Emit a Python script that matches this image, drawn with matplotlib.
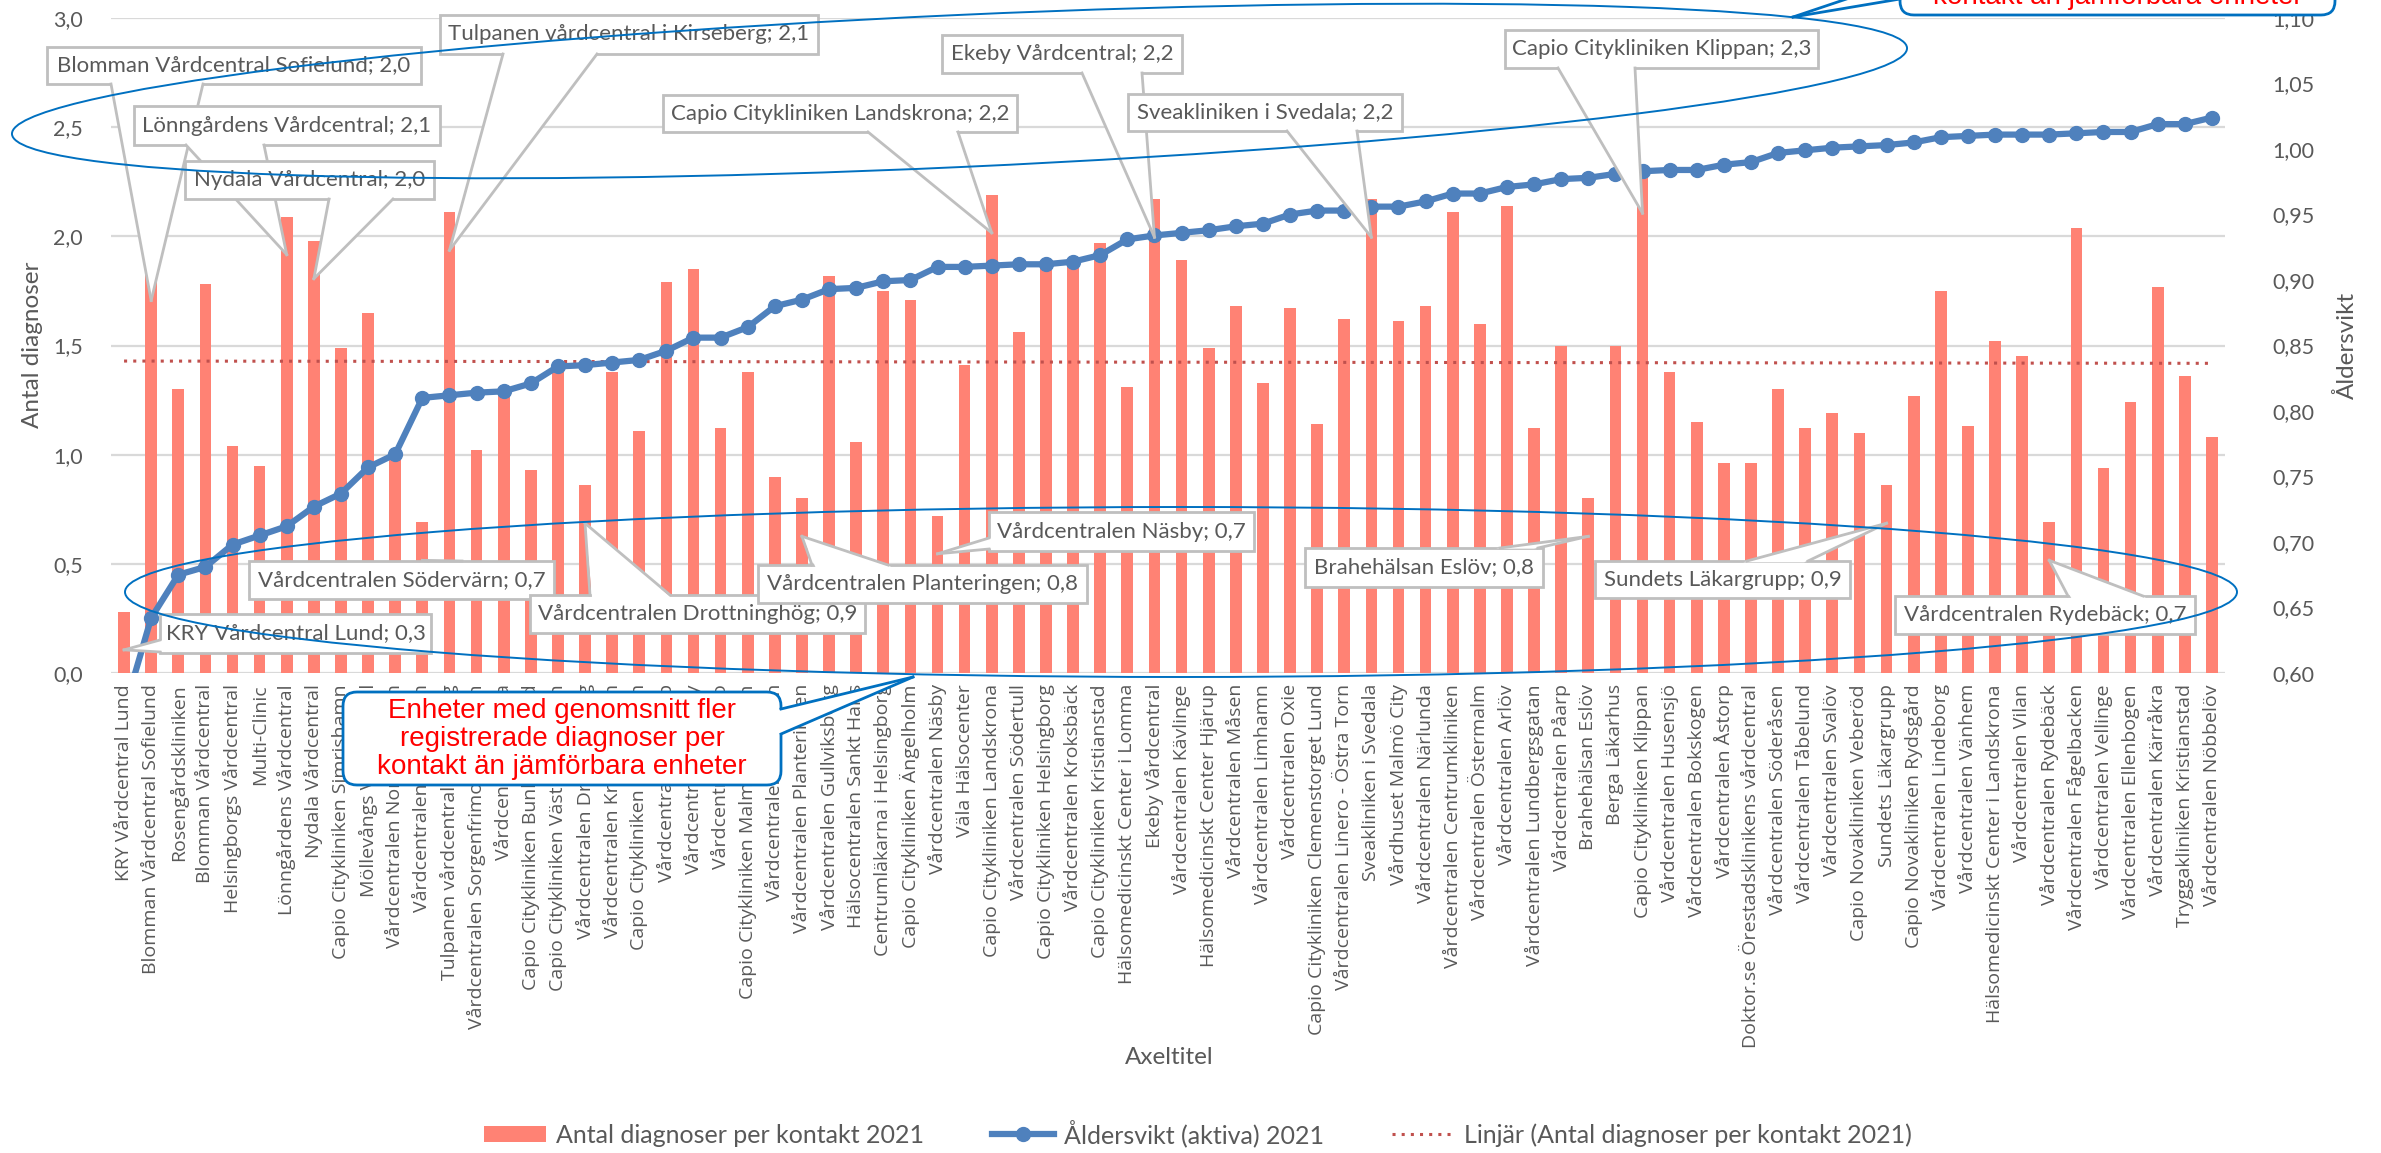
import numpy as np
import matplotlib
matplotlib.use('Agg')
import matplotlib.pyplot as plt
from matplotlib.patches import Ellipse, Polygon, FancyBboxPatch, Patch
from matplotlib.lines import Line2D
from matplotlib.transforms import IdentityTransform
from matplotlib.ticker import FuncFormatter

plt.rcParams['font.family'] = ['Lato', 'DejaVu Sans']

W, H = 2381, 1153
GREY = '#595959'

# ---- data ----
units = [
    'KRY Vårdcentral Lund', 'Blomman Vårdcentral Sofielund', 'Rosengårdskliniken',
    'Blomman Vårdcentral', 'Helsingborgs Vårdcentral', 'Multi-Clinic',
    'Lönngårdens Vårdcentral', 'Nydala Vårdcentral', 'Capio Citykliniken Simrishamn',
    'Möllevångs Vårdcentral', 'Vårdcentralen Norra Fäladen', 'Vårdcentralen Södervärn',
    'Tulpanen vårdcentral i Kirseberg', 'Vårdcentralen Sorgenfrimottagningen', 'Vårdcentralen Bara',
    'Capio Citykliniken Bunkeflostrand', 'Capio Citykliniken Västra Hamnen', 'Vårdcentralen Drottninghög',
    'Vårdcentralen Kronoskogen', 'Capio Citykliniken Nyhamnen', 'Vårdcentralen Skurup',
    'Vårdcentralen Hörby', 'Vårdcentralen Sjöbo', 'Capio Citykliniken Malmö Centrum',
    'Vårdcentralen Höllviken', 'Vårdcentralen Planteringen', 'Vårdcentralen Gullviksborg',
    'Hälsocentralen Sankt Hans', 'Centrumläkarna i Helsingborg', 'Capio Citykliniken Ängelholm',
    'Vårdcentralen Näsby', 'Väla Hälsocenter', 'Capio Citykliniken Landskrona',
    'Vårdcentralen Södertull', 'Capio Citykliniken Helsingborg', 'Vårdcentralen Kroksbäck',
    'Capio Citykliniken Kristianstad', 'Hälsomedicinskt Center i Lomma', 'Ekeby Vårdcentral',
    'Vårdcentralen Kävlinge', 'Hälsomedicinskt Center Hjärup', 'Vårdcentralen Måsen',
    'Vårdcentralen Limhamn', 'Vårdcentralen Oxie', 'Capio Citykliniken Clemenstorget Lund',
    'Vårdcentralen Linero - Östra Torn', 'Sveakliniken i Svedala', 'Vårdhuset Malmö City',
    'Vårdcentralen Närlunda', 'Vårdcentralen Centrumkliniken', 'Vårdcentralen Östermalm',
    'Vårdcentralen Arlöv', 'Vårdcentralen Lundbergsgatan', 'Vårdcentralen Påarp',
    'Brahehälsan Eslöv', 'Berga Läkarhus', 'Capio Citykliniken Klippan',
    'Vårdcentralen Husensjö', 'Vårdcentralen Bokskogen', 'Vårdcentralen Åstorp',
    'Doktor.se Örestadsklinikens vårdcentral', 'Vårdcentralen Söderåsen', 'Vårdcentralen Tåbelund',
    'Vårdcentralen Svalöv', 'Capio Novakliniken Veberöd', 'Sundets Läkargrupp',
    'Capio Novakliniken Rydsgård', 'Vårdcentralen Lindeborg', 'Vårdcentralen Vänhem',
    'Hälsomedicinskt Center i Landskrona', 'Vårdcentralen Vilan', 'Vårdcentralen Rydebäck',
    'Vårdcentralen Fågelbacken', 'Vårdcentralen Vellinge', 'Vårdcentralen Ellenbogen',
    'Vårdcentralen Kärråkra', 'Tryggakliniken Kristianstad', 'Vårdcentralen Nöbbelöv',
]

diagnoser = [
    0.28, 1.88, 1.30, 1.78, 1.04, 0.95, 2.09, 1.98, 1.49, 1.65,
    0.98, 0.69, 2.11, 1.02, 1.29, 0.93, 1.39, 0.86, 1.38, 1.11,
    1.79, 1.85, 1.12, 1.38, 0.90, 0.80, 1.82, 1.06, 1.75, 1.71,
    0.72, 1.41, 2.19, 1.56, 1.87, 1.87, 1.97, 1.31, 2.17, 1.89,
    1.49, 1.68, 1.33, 1.67, 1.14, 1.62, 2.17, 1.61, 1.68, 2.11,
    1.60, 2.14, 1.12, 1.50, 0.80, 1.50, 2.28, 1.38, 1.15, 0.96,
    0.96, 1.30, 1.12, 1.19, 1.10, 0.86, 1.27, 1.75, 1.13, 1.52,
    1.45, 0.69, 2.04, 0.94, 1.24, 1.77, 1.36, 1.08,
]

aldersvikt = [
    0.571, 0.642, 0.675, 0.681, 0.698, 0.705, 0.712, 0.727, 0.737, 0.757,
    0.767, 0.810, 0.812, 0.814, 0.815, 0.821, 0.834, 0.835, 0.837, 0.839,
    0.846, 0.856, 0.856, 0.864, 0.880, 0.885, 0.893, 0.894, 0.899, 0.900,
    0.910, 0.910, 0.911, 0.912, 0.912, 0.914, 0.919, 0.931, 0.934, 0.936,
    0.938, 0.941, 0.943, 0.950, 0.953, 0.953, 0.956, 0.956, 0.960, 0.966,
    0.966, 0.971, 0.973, 0.977, 0.978, 0.981, 0.983, 0.984, 0.984, 0.988,
    0.990, 0.997, 0.999, 1.001, 1.002, 1.003, 1.005, 1.009, 1.010, 1.011,
    1.011, 1.011, 1.012, 1.013, 1.013, 1.019, 1.019, 1.024,
]

# data labels shown as callouts (index of unit, label text)
label_idx = [0, 1, 6, 7, 11, 12, 17, 25, 30, 32, 38, 46, 54, 56, 65, 71]
label_txt = [
    'KRY Vårdcentral Lund; 0,3', 'Blomman Vårdcentral Sofielund; 2,0',
    'Lönngårdens Vårdcentral; 2,1', 'Nydala Vårdcentral; 2,0',
    'Vårdcentralen Södervärn; 0,7', 'Tulpanen vårdcentral i Kirseberg; 2,1',
    'Vårdcentralen Drottninghög; 0,9', 'Vårdcentralen Planteringen; 0,8',
    'Vårdcentralen Näsby; 0,7', 'Capio Citykliniken Landskrona; 2,2',
    'Ekeby Vårdcentral; 2,2', 'Sveakliniken i Svedala; 2,2',
    'Brahehälsan Eslöv; 0,8', 'Capio Citykliniken Klippan; 2,3',
    'Sundets Läkargrupp; 0,9', 'Vårdcentralen Rydebäck; 0,7',
]

# callout layout in picture pixels (y from top): box (x0, y0, x1, y1), wedge base points
label_box = [
    (160, 614, 431, 653), (47, 47, 421, 84), (134, 106, 440, 145), (185, 161, 434, 199),
    (249, 561, 554, 599), (440, 15, 818, 54), (530, 595, 865, 633), (758, 565, 1087, 603),
    (989, 512, 1254, 551), (663, 95, 1017, 132), (942, 35, 1182, 73), (1128, 94, 1402, 131),
    (1305, 548, 1543, 587), (1505, 30, 1818, 68), (1595, 561, 1850, 598), (1895, 596, 2195, 634),
]
label_base = [
    ((160, 640), (160, 652)), ((111, 84), (203, 84)), ((186, 145), (264, 145)), ((329, 199), (393, 199)),
    ((428, 561), (462, 561)), ((503, 54), (597, 54)), ((590, 595), (670, 595)), ((812, 565), (888, 565)),
    ((989, 538), (989, 549)), ((868, 132), (958, 132)), ((1082, 73), (1142, 73)), ((1287, 131), (1357, 131)),
    ((1500, 548), (1538, 548)), ((1558, 68), (1635, 68)), ((1747, 561), (1808, 561)), ((2068, 596), (2143, 596)),
]

x = np.arange(len(units))

fig = plt.figure(figsize=(W / 100, H / 100), dpi=100)
ax = fig.add_axes([110.5 / W, 1 - 673 / H, 2115 / W, 655 / H])

ax.bar(x, diagnoser, width=0.43, color='#FF8274', zorder=2)
coef = np.polyfit(x, diagnoser, 1)
ax.plot(x, np.polyval(coef, x), ls=(0, (1, 2)), color='#C0504D', lw=2.2, zorder=3)

ax.set_xlim(-0.5, len(units) - 0.5)
ax.set_ylim(0, 3)
ax.set_yticks(np.arange(0, 3.01, 0.5))
ax.yaxis.set_major_formatter(FuncFormatter(lambda v, p: f'{v:.1f}'.replace('.', ',')))
ax.set_xticks(x)
ax.set_xticklabels(units, rotation=90, fontsize=14, color=GREY,
                   family=['Open Sans', 'DejaVu Sans'])
ax.tick_params(axis='x', length=0, pad=8)
ax.tick_params(axis='y', length=0, pad=20, labelsize=15.5, labelcolor=GREY)
ax.yaxis.grid(True, color='#D9D9D9', lw=1.6)
ax.set_axisbelow(True)
for s in ax.spines.values():
    s.set_visible(False)

ax2 = ax.twinx()
ax2.plot(x, aldersvikt, color='#4F81BD', lw=4.5, marker='o', ms=10, zorder=4)
ax2.set_ylim(0.6, 1.1)
ax2.set_yticks(np.arange(0.6, 1.1001, 0.05))
ax2.yaxis.set_major_formatter(FuncFormatter(lambda v, p: f'{v:.2f}'.replace('.', ',')))
ax2.tick_params(axis='y', length=0, pad=34, labelsize=15.5, labelcolor=GREY)
for s in ax2.spines.values():
    s.set_visible(False)

fig.text(33 / W, 1 - 345 / H, 'Antal diagnoser', rotation=90, ha='center', va='center',
         fontsize=17.5, color=GREY)
fig.text(2347 / W, 1 - 345 / H, 'Åldersvikt', rotation=90, ha='center', va='center',
         fontsize=17.5, color=GREY)
fig.text(1169 / W, 1 - 1058 / H, 'Axeltitel', ha='center', va='center', fontsize=17.5, color=GREY)

ID = IdentityTransform()


def up(p):
    return (p[0], H - p[1])


def wedge(base, tip, z, fc, ec, lw):
    b1, b2 = np.array(up(base[0]), float), np.array(up(base[1]), float)
    tip = np.array(tip, float)
    mid = (b1 + b2) / 2
    d = mid - tip
    d = d / np.hypot(*d) * 4
    fig.add_artist(Polygon([b1 + d, b2 + d, tip], closed=True, fc=fc, ec='none',
                           transform=ID, zorder=z + 0.1))
    for b in (b1, b2):
        fig.add_artist(Line2D([b[0], tip[0]], [b[1], tip[1]], color=ec, lw=lw,
                              transform=ID, zorder=z + 0.2))


# grey data-label callouts
for k, (i, txt) in enumerate(zip(label_idx, label_txt)):
    z = 10 + k
    x0, y0, x1, y1 = label_box[k]
    fig.add_artist(FancyBboxPatch((x0, H - y1), x1 - x0, y1 - y0, boxstyle='square,pad=0',
                                  fc='white', ec='#BFBFBF', lw=2, transform=ID, zorder=z))
    tx, ty = ax.transData.transform((i, diagnoser[i]))
    wedge(label_base[k], (tx, ty - 38), z, 'white', '#BFBFBF', 2)
    fig.text((x0 + x1) / 2 / W, 1 - (y0 + y1) / 2 / H, txt, ha='center', va='center',
             fontsize=16, color=GREY, zorder=z + 0.3)

# hand drawn ellipses
fig.add_artist(Ellipse((959.5, H - 91), 1897, 152, angle=2.6, fill=False, ec='#0070C0',
                       lw=1.4, transform=ID, zorder=50))
fig.add_artist(Ellipse((1181, H - 592), 2112, 170, fill=False, ec='#0070C0',
                       lw=1.4, transform=ID, zorder=50))

# red comment boxes
RED_TXT = ['Enheter med genomsnitt fler', 'registrerade diagnoser per',
           'kontakt än jämförbara enheter']
TOP_TXT = ['Enheter med genomsnitt färre', 'registrerade diagnoser per',
           'kontakt än jämförbara enheter']
for (x0, y0, x1, y1), lines, base, tip in [
        ((343, 692, 781, 785), RED_TXT, ((781, 709), (781, 734)), (913, 677)),
        ((1900, -78, 2335, 15), TOP_TXT, ((1900, -19), (1900, -1)), (1793, 17))]:
    fig.add_artist(FancyBboxPatch((x0, H - y1), x1 - x0, y1 - y0,
                                  boxstyle='round,pad=0,rounding_size=14',
                                  fc='white', ec='#0070C0', lw=2, transform=ID, zorder=60))
    wedge(base, up(tip), 60, 'white', '#0070C0', 2)
    fig.text((x0 + x1) / 2 / W, 1 - (y0 + y1) / 2 / H, '\n'.join(lines), ha='center',
             va='center', fontsize=20, color='#FF0000', family=['Liberation Sans', 'DejaVu Sans'],
             linespacing=1.1, zorder=61)

# legend
handles = [
    Patch(fc='#FF8274', ec='none'),
    Line2D([], [], color='#4F81BD', lw=4.5, marker='o', ms=10),
    Line2D([], [], color='#C0504D', lw=2.2, ls=(0, (1, 2))),
]
fig.legend(handles, ['Antal diagnoser per kontakt 2021', 'Åldersvikt (aktiva) 2021',
                     'Linjär (Antal diagnoser per kontakt 2021)'],
           loc='center', bbox_to_anchor=(1198 / W, 1 - 1133 / H), ncol=3, frameon=False,
           fontsize=18, labelcolor=GREY, handlelength=2.5, handleheight=0.6,
           handletextpad=0.4, columnspacing=2.7)

fig.savefig('out.png', dpi=100)
